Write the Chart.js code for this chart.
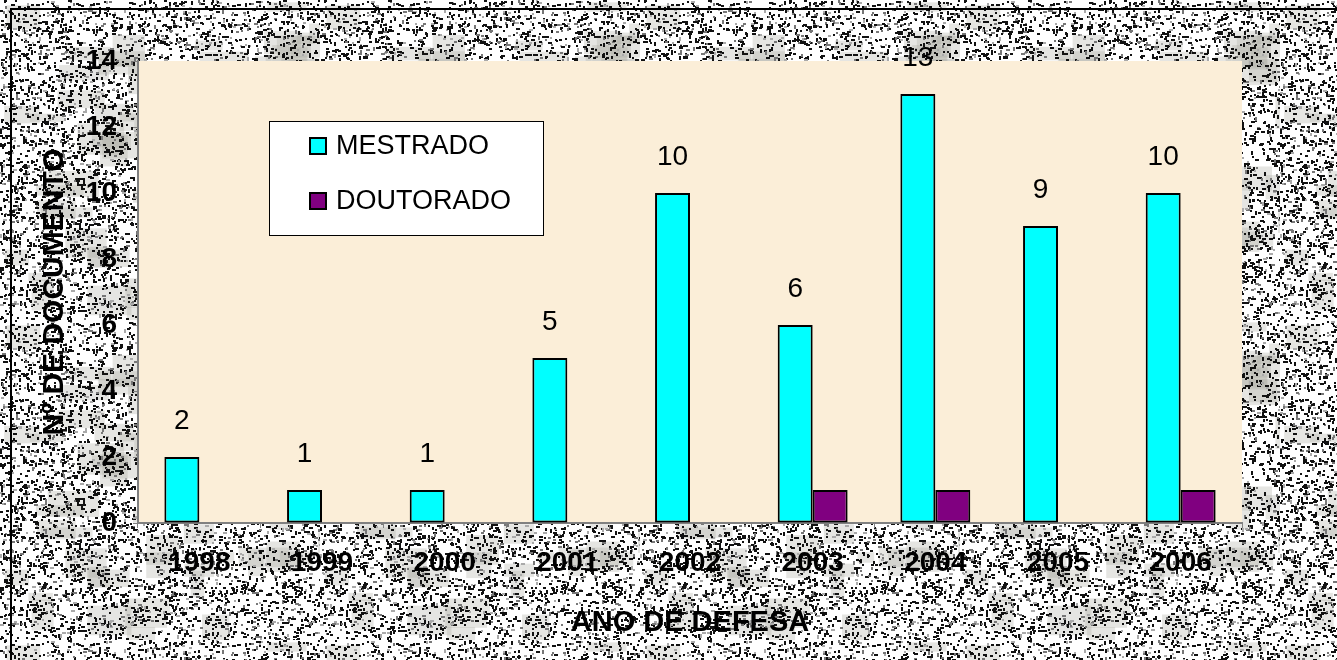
<!DOCTYPE html>
<html>
<head>
<meta charset="utf-8">
<script src="https://cdn.jsdelivr.net/npm/chart.js@4/dist/chart.umd.min.js"></script>
<style>
  html, body { margin: 0; padding: 0; background: #fff; }
  #wrap { width: 1337px; height: 660px; }
</style>
</head>
<body>
<div id="wrap"><canvas id="chart" width="1337" height="660"></canvas></div>
<script>
// data
const years = ['1998', '1999', '2000', '2001', '2002', '2003', '2004', '2005', '2006'];
const mestrado = [2, 1, 1, 5, 10, 6, 13, 9, 10];
const doutorado = [0, 0, 0, 0, 0, 1, 1, 0, 1];
const yTicks = [0, 2, 4, 6, 8, 10, 12, 14];

const FONT = 'Arial, "Liberation Sans", sans-serif';

// granite-like backdrop, seeded so it is the same every run
function makeTexture() {
  const c = document.createElement('canvas');
  c.width = 320; c.height = 320;
  const g = c.getContext('2d');
  let s = 12345;
  const rnd = () => { s = (s * 1664525 + 1013904223) >>> 0; return s / 4294967296; };
  g.fillStyle = '#ffffff';
  g.fillRect(0, 0, 320, 320);
  for (let i = 0; i < 70; i++) {
    g.fillStyle = 'rgba(170,170,160,0.3)';
    g.fillRect(rnd() * 320, rnd() * 320, 12 + rnd() * 40, 8 + rnd() * 25);
  }
  for (let i = 0; i < 5500; i++) {
    const r = rnd();
    g.fillStyle = r < 0.75 ? '#111' : (r < 0.9 ? '#777' : '#aaa');
    const horiz = rnd() < 0.65;
    const len = 2 + Math.floor(rnd() * 3);
    g.fillRect(Math.floor(rnd() * 320), Math.floor(rnd() * 320), horiz ? len : 2, horiz ? 2 : len);
  }
  return c;
}

const backdrop = {
  id: 'backdrop',
  beforeDraw(chart) {
    const ctx = chart.ctx;
    const a = chart.chartArea;
    ctx.save();
    ctx.fillStyle = ctx.createPattern(makeTexture(), 'repeat');
    ctx.fillRect(0, 0, chart.width, chart.height);
    ctx.strokeStyle = '#000';
    ctx.lineWidth = 2;
    ctx.strokeRect(11, 9, chart.width + 20, chart.height + 20);
    ctx.fillStyle = '#fbeed8';
    ctx.fillRect(a.left, a.top, a.right - a.left, a.bottom - a.top);
    ctx.restore();
  }
};

// value labels over the MESTRADO bars + legend box inside the plot
const extras = {
  id: 'extras',
  afterDraw(chart) {
    const ctx = chart.ctx;
    ctx.save();
    ctx.fillStyle = '#000';
    ctx.font = '28px ' + FONT;
    ctx.textAlign = 'center';
    ctx.textBaseline = 'middle';
    chart.getDatasetMeta(0).data.forEach((bar, i) => {
      ctx.fillText(String(mestrado[i]), bar.x, bar.y - 36);
    });

    // legend
    ctx.fillStyle = '#fff';
    ctx.fillRect(269, 121, 274, 114);
    ctx.strokeStyle = '#000';
    ctx.lineWidth = 1;
    ctx.strokeRect(269.5, 121.5, 274, 114);
    const items = [['MESTRADO', '#00ffff', 146], ['DOUTORADO', '#800080', 201]];
    items.forEach(([txt, col, y]) => {
      ctx.fillStyle = col;
      ctx.fillRect(310, y - 8, 16, 16);
      ctx.lineWidth = 2;
      ctx.strokeRect(310, y - 8, 16, 16);
      ctx.fillStyle = '#000';
      ctx.textAlign = 'left';
      ctx.font = '27px ' + FONT;
      ctx.fillText(txt, 336, y + 1);
    });
    ctx.restore();
  }
};

const ctx = document.getElementById('chart').getContext('2d');
const chart = new Chart(ctx, {
  type: 'bar',
  data: {
    labels: years,
    datasets: [{
      label: 'MESTRADO',
      data: mestrado,
      backgroundColor: '#00ffff',
      borderColor: '#000',
      borderWidth: 2,
      borderSkipped: false,
      categoryPercentage: 0.57,
      barPercentage: 1.0
    }, {
      label: 'DOUTORADO',
      data: doutorado,
      backgroundColor: '#800080',
      borderColor: '#000',
      borderWidth: 2,
      borderSkipped: false,
      categoryPercentage: 0.57,
      barPercentage: 1.0
    }]
  },
  options: {
    responsive: false,
    animation: false,
    layout: { padding: { left: 0, top: 61, right: 95, bottom: 0 } },
    plugins: {
      legend: { display: false },
      tooltip: { enabled: false }
    },
    scales: {
      x: {
        afterFit: s => { s.height = 137; },
        grid: { drawOnChartArea: false, drawTicks: true, tickLength: 5, color: '#808080', offset: true },
        border: { color: '#808080', width: 2 },
        ticks: { color: '#000', padding: 18, font: { family: FONT, size: 28, weight: 'bold' } },
        title: {
          display: true, text: 'ANO DE DEFESA', color: '#000',
          font: { family: FONT, size: 29, weight: 'bold' },
          padding: { top: 0, bottom: 20 }
        }
      },
      y: {
        min: 0, max: 14,
        afterFit: s => { s.width = 138; },
        afterBuildTicks: s => { s.ticks = yTicks.map(v => ({ value: v })); },
        grid: { drawOnChartArea: false, drawTicks: true, tickLength: 5, color: '#808080' },
        border: { color: '#808080', width: 2 },
        ticks: { color: '#000', padding: 16, font: { family: FONT, size: 28, weight: 'bold' } },
        title: {
          display: true, text: 'Nº DE DOCUMENTO', color: '#000',
          font: { family: FONT, size: 30, weight: 'bold' },
          padding: { top: 37, bottom: 0 }
        }
      }
    }
  },
  plugins: [backdrop, extras]
});
</script>
</body>
</html>
